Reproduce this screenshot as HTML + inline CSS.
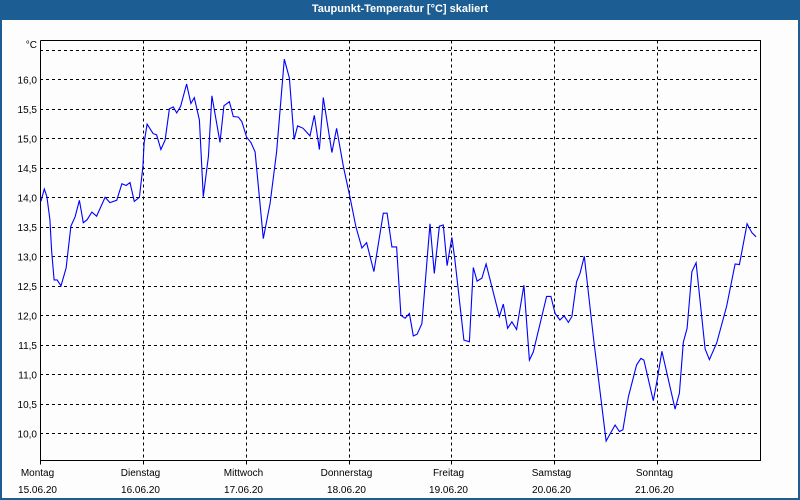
<!DOCTYPE html>
<html><head><meta charset="utf-8"><style>
body{margin:0;width:800px;height:500px;overflow:hidden;background:#fff;font-family:"Liberation Sans",sans-serif}
#frame{position:absolute;left:0;top:0;width:796px;height:478px;border:2px solid #1c5e94;border-top:20px solid #1c5e94;background:#fdfdfd}
#title{position:absolute;left:0;top:0;width:800px;height:20px;line-height:19px;text-align:center;color:#fff;font-weight:bold;font-size:11px}
</style></head><body>
<div id="frame"></div>
<div id="title">Taupunkt-Temperatur [°C] skaliert</div>
<svg id="chart" width="800" height="500" style="position:absolute;left:0;top:0" font-family="Liberation Sans, sans-serif" font-size="10"></svg>
<script>
const hours=[0.2,1.0,1.6,2.3,2.7,3.3,4.0,4.9,6.1,7.2,8.2,9.2,10.1,11.0,12.1,13.2,15.2,16.3,17.9,19.1,20.1,21.0,22.0,23.2,24.0,24.3,25.0,26.4,27.2,28.2,29.2,30.2,31.1,31.9,32.8,34.2,35.2,36.0,37.2,38.1,39.3,40.1,41.1,42.0,42.9,44.2,45.1,46.3,47.1,48.2,49.2,50.2,52.1,53.7,55.2,57.0,58.2,59.3,60.1,61.4,63.0,64.0,65.2,66.1,68.1,69.2,70.8,72.3,73.7,75.1,76.2,77.9,80.1,81.0,82.1,83.2,84.2,85.2,86.2,87.1,88.0,89.1,91.0,92.0,93.2,94.1,95.0,96.1,96.8,98.9,100.2,101.1,102.0,103.1,104.1,107.2,108.1,109.1,110.1,111.2,112.9,114.2,115.1,118.2,119.2,120.2,121.3,122.3,123.3,124.1,125.2,126.0,127.0,129.1,132.1,134.2,135.2,136.0,137.3,139.2,140.2,140.9,143.1,144.0,145.1,148.2,149.2,150.1,151.0,152.1,153.1,155.2,156.2,157.9,160.2,162.2,163.2,165.0,166.1,167.1];
const temps=[13.93,14.14,14.01,13.62,13.1,12.6,12.6,12.5,12.8,13.51,13.67,13.95,13.57,13.62,13.75,13.68,14.0,13.91,13.95,14.23,14.2,14.25,13.93,14.0,14.52,14.92,15.24,15.08,15.06,14.81,14.97,15.5,15.53,15.43,15.54,15.92,15.59,15.69,15.31,14.01,14.69,15.72,15.31,14.93,15.55,15.62,15.37,15.36,15.28,15.02,14.93,14.77,13.3,13.9,14.77,16.34,16.02,14.98,15.21,15.17,15.04,15.39,14.81,15.69,14.76,15.17,14.52,14.01,13.5,13.14,13.23,12.74,13.73,13.73,13.16,13.16,12.0,11.95,12.03,11.65,11.68,11.86,13.55,12.71,13.51,13.53,12.84,13.32,12.94,11.58,11.55,12.81,12.58,12.63,12.87,11.98,12.19,11.78,11.89,11.76,12.51,11.24,11.38,12.32,12.32,12.03,11.92,11.99,11.88,11.98,12.57,12.71,13.0,11.64,9.87,10.14,10.03,10.06,10.62,11.16,11.27,11.24,10.55,10.9,11.39,10.41,10.68,11.54,11.78,12.74,12.89,11.43,11.25,11.53,12.15,12.87,12.86,13.55,13.4,13.33];
const yTicks=[10.0,10.5,11.0,11.5,12.0,12.5,13.0,13.5,14.0,14.5,15.0,15.5,16.0,16.5];
const dayNames=["Montag","Dienstag","Mittwoch","Donnerstag","Freitag","Samstag","Sonntag"];
const dayDates=["15.06.20","16.06.20","17.06.20","18.06.20","19.06.20","20.06.20","21.06.20"];
const L=40,R=760,T=40.5,B=460.5;
const x=h=>L+h/168*(R-L);
const y=v=>433.3-(v-10)*59;
const svg=document.getElementById('chart');
const NS='http://www.w3.org/2000/svg';
function mk(t,a){const e=document.createElementNS(NS,t);for(const k in a)e.setAttribute(k,a[k]);svg.appendChild(e);return e;}
yTicks.forEach(v=>{
 const g=mk('line',{x1:L,x2:R,y1:Math.round(y(v))+0.5,y2:Math.round(y(v))+0.5,stroke:'#000','stroke-dasharray':'3,3'});
 
 
 if(v<16.4){const t=mk('text',{x:37,y:y(v)+4,'text-anchor':'end'});t.textContent=v.toFixed(1).replace('.',',');
 
 }
});
dayNames.forEach((n,i)=>{
 const xx=Math.round(x(i*24))+0.5;
 if(i>0){const g=mk('line',{x1:xx,x2:xx,y1:T,y2:B,stroke:'#000','stroke-dasharray':'3,3'});
 
 }
 const tk=mk('line',{x1:xx,x2:xx,y1:B,y2:B+4,stroke:'#000'});
 
 
 const t=mk('text',{x:xx-3,y:476,'text-anchor':'middle'});t.textContent=n;
 
 
 const d=mk('text',{x:xx-3,y:493,'text-anchor':'middle'});d.textContent=dayDates[i];
 
 
});
const ax=mk('path',{d:`M${L+0.5},${T} V${B} H${R+0.5} V${T} H${L+0.5}`,fill:'none',stroke:'#000'});


const u=mk('text',{x:37,y:48,'text-anchor':'end'});u.textContent='°C';


const line=mk('polyline',{points:hours.map((h,i)=>x(h).toFixed(1)+','+y(temps[i]).toFixed(1)).join(' '),fill:'none',stroke:'#0000ff','stroke-width':1.1});


</script>
</body></html>
